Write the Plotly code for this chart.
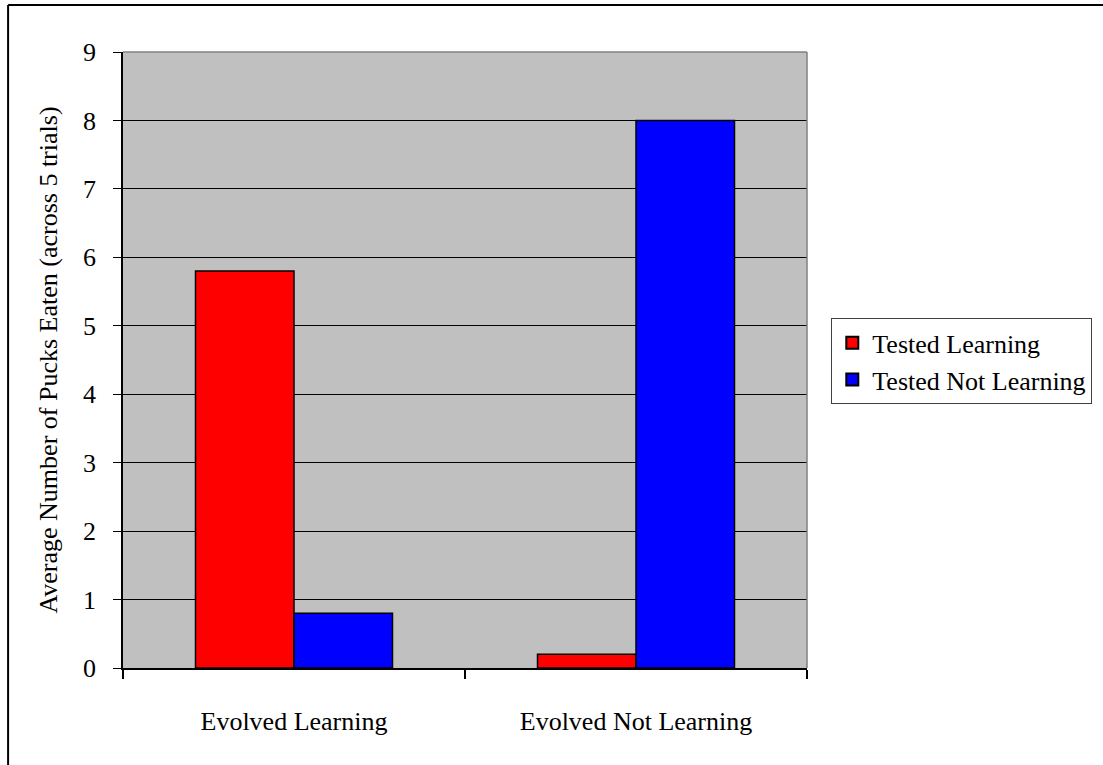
import plotly.graph_objects as go

categories = ["Evolved Learning", "Evolved Not Learning"]
tested_learning = [5.8, 0.2]
tested_not_learning = [0.8, 8.0]
series_names = ["Tested Learning", "Tested Not Learning"]
y_ticks = [0, 1, 2, 3, 4, 5, 6, 7, 8, 9]

FONT = "Liberation Serif"
FS = 26
pos = list(range(len(categories)))

fig = go.Figure()
fig.add_trace(go.Bar(x=pos, y=tested_learning, name=series_names[0],
                     marker=dict(color="#FF0000", line=dict(color="black", width=1.5))))
fig.add_trace(go.Bar(x=pos, y=tested_not_learning, name=series_names[1],
                     marker=dict(color="#0000FF", line=dict(color="black", width=1.5))))

fig.update_layout(
    width=1103, height=765,
    margin=dict(l=123, r=295, t=52, b=97),
    paper_bgcolor="white",
    plot_bgcolor="#C0C0C0",
    barmode="group",
    bargap=0.424,
    bargroupgap=0,
    font=dict(family=FONT, size=FS, color="black"),
    legend=dict(x=1.034, y=0.498, xanchor="left", yanchor="middle",
                bordercolor="#404040", borderwidth=1, bgcolor="white",
                font=dict(family=FONT, size=FS), tracegroupgap=6,
                itemsizing="constant"),
    xaxis=dict(
        range=[-0.5, 1.5], tickmode="array", tickvals=pos, ticktext=categories,
        ticks="", showgrid=False, zeroline=False,
        showline=True, linecolor="black", linewidth=1.5,
        ticklabelstandoff=29,
        minor=dict(tickmode="array", tickvals=[-0.5, 0.5, 1.5], ticks="outside",
                   ticklen=9, tickwidth=1.5, tickcolor="black", showgrid=False),
    ),
    yaxis=dict(
        range=[0, 9], tickmode="array", tickvals=y_ticks, ticks="outside",
        ticklen=8, tickwidth=1, tickcolor="black",
        showgrid=True, gridcolor="black", gridwidth=1, zeroline=False,
        showline=True, linecolor="black", linewidth=1.5,
        ticklabelstandoff=12,
        title=dict(text="Average Number of Pucks Eaten (across 5 trials)",
                   standoff=18, font=dict(family=FONT, size=FS)),
    ),
    shapes=[
        # gray border on top and right of the plotting area
        dict(type="line", xref="paper", yref="paper", x0=0, x1=1, y0=1, y1=1,
             line=dict(color="#808080", width=1.5)),
        dict(type="line", xref="paper", yref="paper", x0=1, x1=1, y0=0, y1=1,
             line=dict(color="#808080", width=1.5)),
        # outer chart frame
        dict(type="line", xref="paper", yref="paper", x0=-0.168, x1=1.5,
             y0=1.0763, y1=1.0763, line=dict(color="black", width=2)),
        dict(type="line", xref="paper", yref="paper", x0=-0.168, x1=-0.168,
             y0=-0.3, y1=1.0763, line=dict(color="black", width=2)),
    ],
)

fig.write_html("out.html")
